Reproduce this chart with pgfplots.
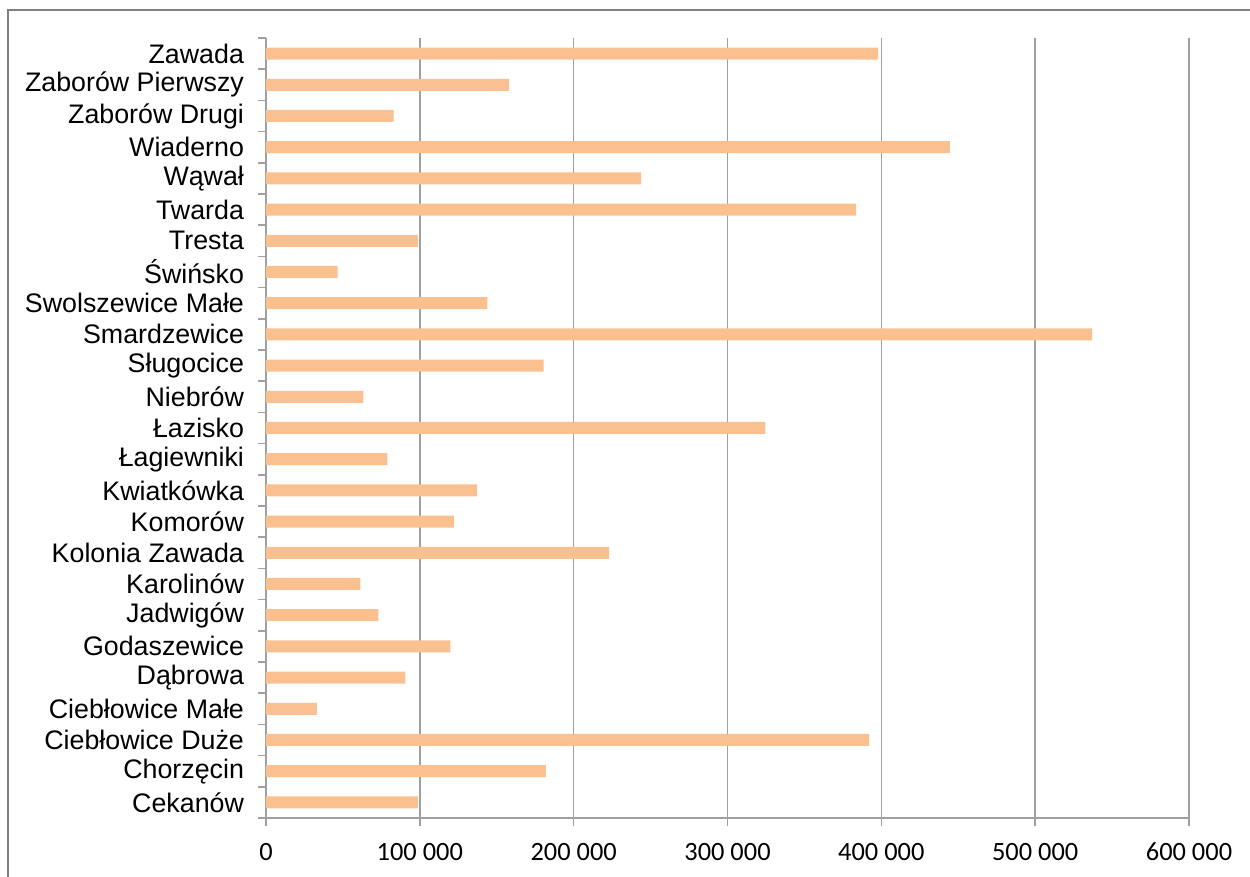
\documentclass[border=0pt]{standalone}
\usepackage{fontspec}
\setmainfont{Liberation Sans}
\newfontfamily\calib{Carlito}
\usepackage{pgfplots}
\pgfplotsset{compat=1.18}

\definecolor{barorange}{RGB}{250,192,144}
\definecolor{gridgray}{RGB}{160,160,160}
\definecolor{framegray}{RGB}{128,128,128}

\pgfplotstableread{
idx value
0  98800
1  182000
2  392000
3  33000
4  90600
5  119800
6  73000
7  61300
8  223000
9  122200
10 137200
11 78900
12 324700
13 63300
14 180500
15 537000
16 143900
17 46600
18 98800
19 383600
20 243800
21 444500
22 83000
23 158000
24 397900
}\wsie

\begin{document}
\begin{tikzpicture}
\useasboundingbox (-133pt,-29.5pt) rectangle (492pt,409pt);
\begin{axis}[
    scale only axis,
    width=461.5pt, height=390pt,
    xbar, bar width=6pt,
    xmin=0, xmax=600000,
    ymin=-0.5, ymax=24.5,
    axis lines*=left,
    axis line style={draw=gridgray, line width=0.8pt},
    xtick={0,100000,200000,300000,400000,500000,600000},
    xticklabels={0,100 000,200 000,300 000,400 000,500 000,600 000},
    xticklabel style={font=\calib\fontsize{13.2}{14}\selectfont, anchor=north, yshift=-5pt},
    ytick={0,...,24},
    yticklabels={Cekanów,Chorzęcin,Ciebłowice Duże,Ciebłowice Małe,Dąbrowa,
      Godaszewice,Jadwigów,Karolinów,Kolonia Zawada,Komorów,Kwiatkówka,
      Łagiewniki,Łazisko,Niebrów,Sługocice,Smardzewice,Swolszewice Małe,
      Świńsko,Tresta,Twarda,Wąwał,Wiaderno,Zaborów Drugi,Zaborów Pierwszy,Zawada},
    yticklabel style={font=\fontsize{13.4}{15}\selectfont, xshift=-3.5pt},
    minor ytick={-0.5,0.5,...,24.5},
    major y tick style={draw=none},
    tick align=outside,
    major tick length=4pt, minor tick length=4pt,
    tick style={draw=gridgray, line width=0.8pt},
    xmajorgrids,
    major grid style={draw=gridgray, line width=0.8pt},
    clip=false,
]
\addplot[fill=barorange, draw=none] table[x=value, y=idx] {\wsie};
\end{axis}
\draw[framegray, line width=1pt] (-129pt,-40pt) -- (-129pt,404pt) -- (500pt,404pt);
\end{tikzpicture}
\end{document}
